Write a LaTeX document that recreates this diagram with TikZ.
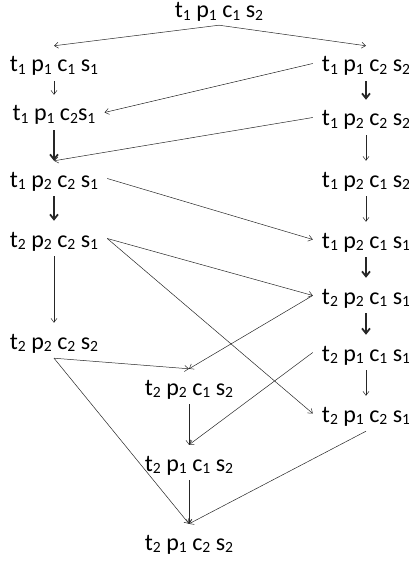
\documentclass[tikz,border=0pt]{standalone}
\usepackage{fontspec}
\setmainfont{Carlito}
\usetikzlibrary{arrows.meta}
\newcommand\sbs[1]{\raisebox{-0.1em}{\fontsize{15.6}{16}\selectfont #1}}
\tikzset{
  st/.style={inner xsep=9pt, inner ysep=0pt, text height=26pt, text depth=9pt,
             font=\fontsize{24}{28}\selectfont, anchor=base, text=black},
  ar/.style={-{Straight Barb[length=4pt,width=6pt]}, line width=0.5pt, draw=black!85},
  tk/.style={-{Straight Barb[length=5pt,width=8pt]}, line width=1.8pt, draw=black!85}
}
\begin{document}
\begin{tikzpicture}[x=1pt,y=1pt]
\useasboundingbox (0,0) rectangle (408,-564);
% nodes
\node[st, text depth=7pt] (top) at (219,-18) {t\sbs{1} p\sbs{1} c\sbs{1} s\sbs{2}};
\node[st] (l1) at (54,-72) {t\sbs{1} p\sbs{1} c\sbs{1} s\sbs{1}};
\node[st] (l2) at (54,-121) {t\sbs{1} p\sbs{1} c\sbs{2}s\sbs{1}};
\node[st] (l3) at (54,-187) {t\sbs{1} p\sbs{2} c\sbs{2} s\sbs{1}};
\node[st] (l4) at (54,-247) {t\sbs{2} p\sbs{2} c\sbs{2} s\sbs{1}};
\node[st] (l5) at (54,-349) {t\sbs{2} p\sbs{2} c\sbs{2} s\sbs{2}};
\node[st] (r1) at (366,-72) {t\sbs{1} p\sbs{1} c\sbs{2} s\sbs{2}};
\node[st] (r2) at (366,-126) {t\sbs{1} p\sbs{2} c\sbs{2} s\sbs{2}};
\node[st] (r3) at (366,-187) {t\sbs{1} p\sbs{2} c\sbs{1} s\sbs{2}};
\node[st] (r4) at (366,-248) {t\sbs{1} p\sbs{2} c\sbs{1} s\sbs{1}};
\node[st] (r5) at (366,-304) {t\sbs{2} p\sbs{2} c\sbs{1} s\sbs{1}};
\node[st] (r6) at (366,-361) {t\sbs{2} p\sbs{1} c\sbs{1} s\sbs{1}};
\node[st] (r7) at (366,-422) {t\sbs{2} p\sbs{1} c\sbs{2} s\sbs{1}};
\node[st] (m1) at (189,-395) {t\sbs{2} p\sbs{2} c\sbs{1} s\sbs{2}};
\node[st] (m2) at (189,-471) {t\sbs{2} p\sbs{1} c\sbs{1} s\sbs{2}};
\node[st] (m3) at (189,-550) {t\sbs{2} p\sbs{1} c\sbs{2} s\sbs{2}};
% connectors
\draw[ar] (top.south) -- (l1.north);
\draw[ar] (top.south) -- (r1.north);
\draw[ar] (l1.south) -- (l2.north);
\draw[ar] (r1.west) -- (l2.east);
\draw[tk] (r1.south) -- (r2.north);
\draw[tk] (l2.south) -- (l3.north);
\draw[ar] (r2.west) -- (l3.north);
\draw[ar] (r2.south) -- (r3.north);
\draw[ar] (l3.east) -- (r4.west);
\draw[tk] (l3.south) -- (l4.north);
\draw[ar] (r3.south) -- (r4.north);
\draw[ar] (l4.east) -- (r5.west);
\draw[ar] (l4.east) -- (r7.west);
\draw[ar] (l4.south) -- (l5.north);
\draw[tk] (r4.south) -- (r5.north);
\draw[ar] (r5.west) -- (m1.north);
\draw[tk] (r5.south) -- (r6.north);
\draw[ar] (l5.south) -- (m1.north);
\draw[ar] (l5.south) -- (m3.north);
\draw[ar] (r6.west) -- (m2.north);
\draw[ar] (r6.south) -- (r7.north);
\draw[ar] (m1.south) -- (m2.north);
\draw[ar] (r7.south) -- (m3.north);
\draw[ar] (m2.south) -- (m3.north);
\end{tikzpicture}
\end{document}
